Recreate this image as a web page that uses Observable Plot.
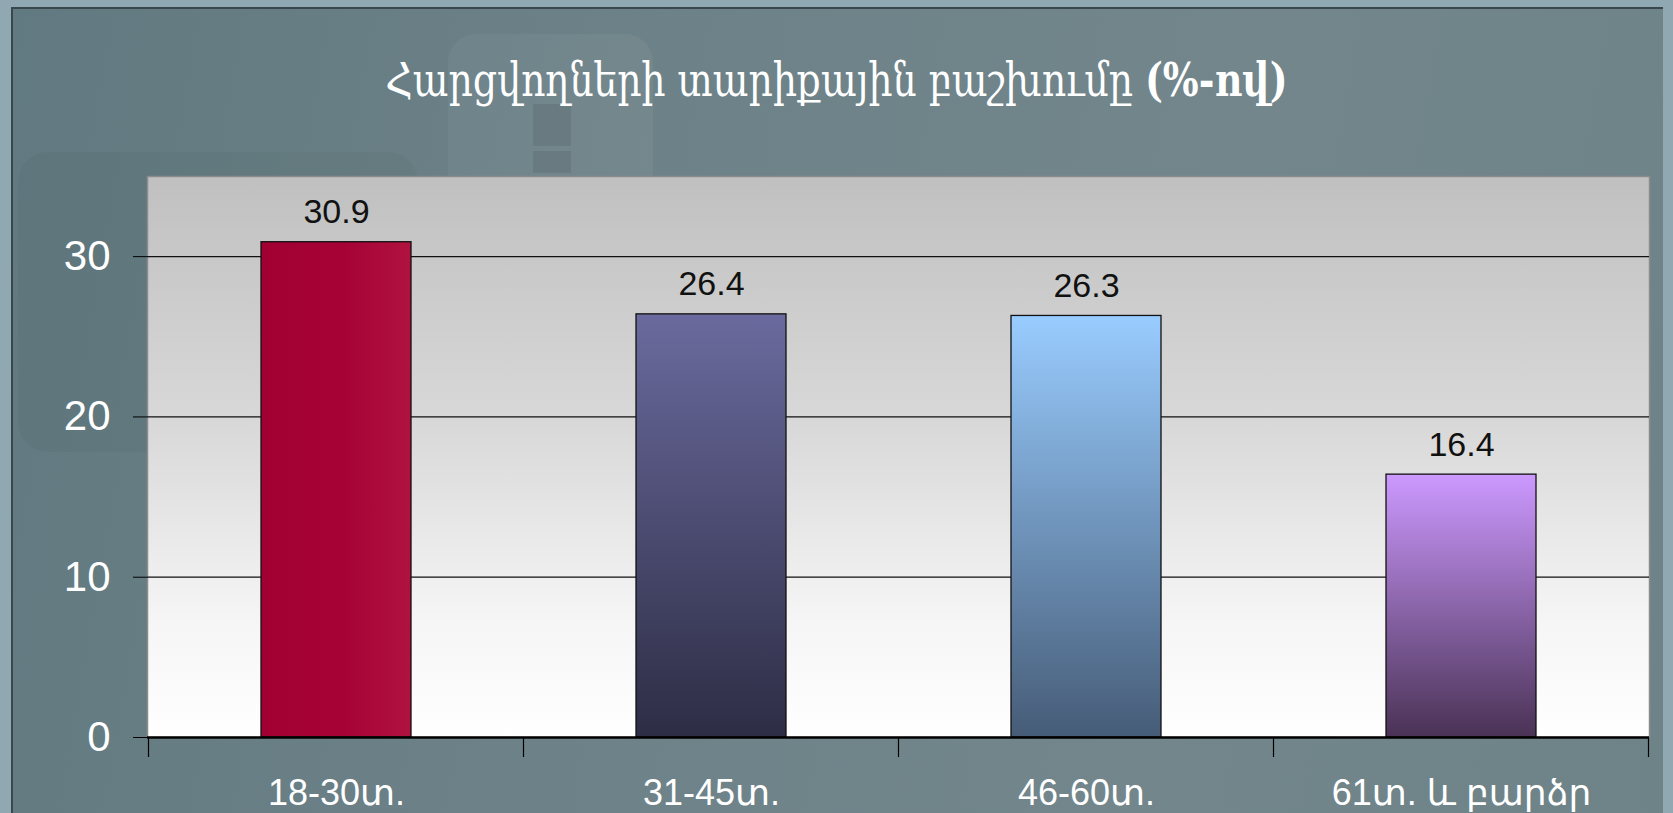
<!DOCTYPE html>
<html>
<head>
<meta charset="utf-8">
<script src="https://cdn.jsdelivr.net/npm/d3@7"></script>
<script src="https://cdn.jsdelivr.net/npm/@observablehq/plot@0.6"></script>
<style>
  html, body { margin: 0; padding: 0; }
  body { width: 1673px; height: 813px; overflow: hidden; position: relative; background: #8fa8b2; }
  #panel { position: absolute; left: 11px; top: 7px; width: 1652px; height: 806px; box-sizing: border-box;
    border-left: 2px solid #3a474c; border-top: 2px solid #3a474c;
    background: linear-gradient(100deg, #617980 0%, #6d8288 35%, #72868c 70%, #6e8388 100%); overflow: hidden; }
  .deco1 { position: absolute; left: 435px; top: 25px; width: 205px; height: 175px; border-radius: 28px; background: rgba(255,255,255,0.045); }
  .deco2 { position: absolute; left: 5px; top: 143px; width: 400px; height: 300px; border-radius: 30px; background: rgba(0,0,0,0.03); }
  .deco3 { position: absolute; left: 520px; top: 95px; width: 38px; height: 42px; background: rgba(0,0,0,0.08); }
  .deco4 { position: absolute; left: 520px; top: 142px; width: 38px; height: 22px; background: rgba(0,0,0,0.08); }
  #title { position: absolute; left: 0; top: 50px; width: 1673px; text-align: center; color: #fff;
    font-family: "DejaVu Serif", serif; font-stretch: condensed; font-size: 42px; line-height: 60px;
    transform: scaleY(1.12); }
  #title b { font-weight: 600; }
  #chart { position: absolute; left: 0; top: 0; }
</style>
</head>
<body>
<div id="panel"><div class="deco1"></div><div class="deco2"></div><div class="deco3"></div><div class="deco4"></div></div>
<div id="title">Հարցվողների տարիքային բաշխումը <b>(%-ով)</b></div>
<div id="chart"></div>
<script>
const categories = ["18-30տ.", "31-45տ.", "46-60տ.", "61տ. և բարձր"];
const values = [30.9, 26.4, 26.3, 16.4];
const yTicks = [0, 10, 20, 30];

// styles
const gradTop = ["#a30033", "#6a6a9e", "#99ccff", "#cc99ff"];
const gradBottom = ["#a30033", "#2d2d45", "#465c77", "#4a3255"];

const data = categories.map((c, i) => ({cat: c, value: values[i], fill: `url(#bar${i})`}));

const defs = () => {
  const d = d3.create("svg:defs");
  const bg = d.append("linearGradient").attr("id", "plotbg").attr("x1", 0).attr("y1", 0).attr("x2", 0).attr("y2", 1);
  bg.append("stop").attr("offset", "0%").attr("stop-color", "#c0c0c0");
  bg.append("stop").attr("offset", "45%").attr("stop-color", "#d9d9d9");
  bg.append("stop").attr("offset", "80%").attr("stop-color", "#f6f6f6");
  bg.append("stop").attr("offset", "100%").attr("stop-color", "#ffffff");
  categories.forEach((c, i) => {
    if (i === 0) {
      const g = d.append("linearGradient").attr("id", "bar0").attr("x1", 0).attr("y1", 0).attr("x2", 1).attr("y2", 0);
      g.append("stop").attr("offset", "0%").attr("stop-color", "#a20032");
      g.append("stop").attr("offset", "55%").attr("stop-color", "#a60236");
      g.append("stop").attr("offset", "100%").attr("stop-color", "#b0123f");
    } else {
      const g = d.append("linearGradient").attr("id", `bar${i}`).attr("x1", 0).attr("y1", 0).attr("x2", 0).attr("y2", 1);
      g.append("stop").attr("offset", "0%").attr("stop-color", gradTop[i]);
      g.append("stop").attr("offset", "100%").attr("stop-color", gradBottom[i]);
    }
  });
  return d.node();
};

const boundaryTicks = (index, scales) => {
  const x = scales.x, y = scales.y;
  const step = x.step(), bw = x.bandwidth();
  const half = (step - bw) / 2;
  const pos = categories.map(c => x(c) - half);
  pos.push(x(categories[categories.length - 1]) + bw + half);
  const g = d3.create("svg:g").attr("stroke", "#000").attr("stroke-width", 1.2);
  const y0 = y(0);
  pos.forEach(p => g.append("line").attr("x1", p).attr("x2", p).attr("y1", y0).attr("y2", y0 + 20));
  return g.node();
};

const plot = Plot.plot({
  width: 1673,
  height: 813,
  marginLeft: 147,
  marginRight: 24,
  marginTop: 176,
  marginBottom: 76,
  style: {background: "transparent", overflow: "visible"},
  x: {domain: categories, paddingInner: 0.6, paddingOuter: 0.3, label: null},
  y: {domain: [0, 35], label: null},
  color: {type: "identity"},
  marks: [
    defs,
    Plot.frame({fill: "url(#plotbg)", stroke: "#8c8c8c", strokeWidth: 1.5}),
    Plot.ruleY(yTicks.filter(t => t > 0), {stroke: "#111", strokeWidth: 1.3}),
    Plot.barY(data, {x: "cat", y: "value", fill: "fill", stroke: "#111", strokeWidth: 1.3}),
    Plot.ruleY([0], {stroke: "#000", strokeWidth: 2.5}),
    boundaryTicks,
    Plot.text(data, {x: "cat", y: "value", text: d => d.value.toFixed(1), lineAnchor: "bottom", dy: -19,
      fill: "#111", fontSize: 34, fontFamily: "Liberation Sans, Arial, sans-serif",
      style: "letter-spacing: 1.5px"}),
    Plot.axisY({ticks: yTicks, tickSize: 14, tickPadding: 23, stroke: "#000", fill: "#fff", color: "#fff",
      fontSize: 42, fontFamily: "Liberation Sans, Arial, sans-serif", tickFormat: d => d, label: null}),
    Plot.axisX({tickSize: 0, tickPadding: 42, fill: "#fff", color: "#fff", fontSize: 36,
      fontFamily: "Liberation Sans, DejaVu Sans, sans-serif", label: null})
  ]
});
document.getElementById("chart").appendChild(plot);
</script>
</body>
</html>
